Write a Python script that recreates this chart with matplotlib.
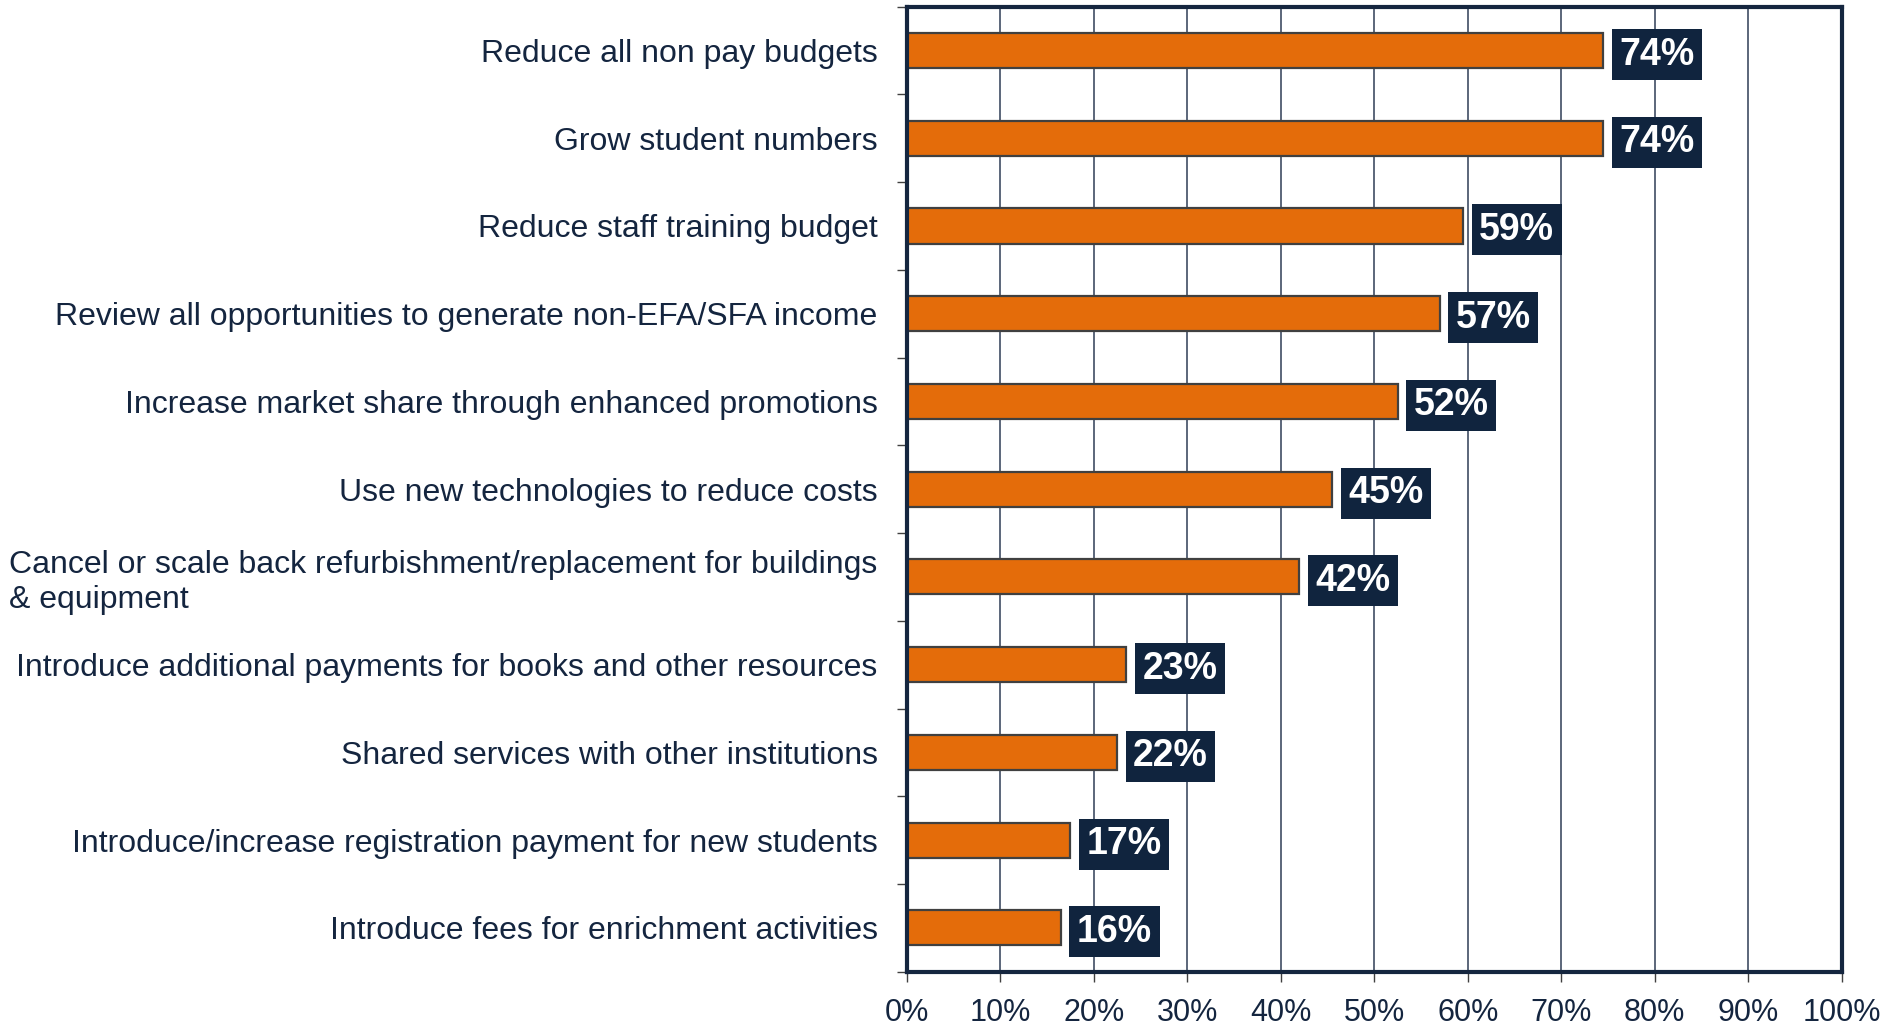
import matplotlib
matplotlib.use("Agg")
import matplotlib.pyplot as plt
from matplotlib.ticker import MultipleLocator, FixedLocator, PercentFormatter

_NAVY = "#14253f"
_BOX = "#10243e"
_ORANGE = "#e46c0a"
_EDGE = "#404040"
_GRID = "#3f4d63"

categories = [
    "Reduce all non pay budgets",
    "Grow student numbers",
    "Reduce staff training budget",
    "Review all opportunities to generate non-EFA/SFA income",
    "Increase market share through enhanced promotions",
    "Use new technologies to reduce costs",
    "Cancel or scale back refurbishment/replacement for buildings\n& equipment",
    "Introduce additional payments for books and other resources",
    "Shared services with other institutions",
    "Introduce/increase registration payment for new students",
    "Introduce fees for enrichment activities",
]
values = [74.5, 74.5, 59.5, 57, 52.5, 45.5, 42, 23.5, 22.5, 17.5, 16.5]
labels = ["74%", "74%", "59%", "57%", "52%", "45%", "42%", "23%", "22%", "17%", "16%"]

plt.rcParams["font.family"] = ["Liberation Sans", "DejaVu Sans"]

fig = plt.figure(figsize=(18.87, 10.26), dpi=100)
ax = fig.add_axes([0.4805, 0.0529, 0.4955, 0.9406])

ypos = list(range(len(categories)))
ax.barh(ypos, values, height=0.4, color=_ORANGE, edgecolor=_EDGE, linewidth=1.6, zorder=3)

for y, v, lab in zip(ypos, values, labels):
    ax.annotate(
        lab, xy=(v, y), xytext=(11.5, 0), textcoords="offset points",
        ha="left", va="center_baseline", fontsize=27, fontweight="bold", color="white",
        bbox=dict(boxstyle="square,pad=0.2", facecolor=_BOX, edgecolor="none"),
        zorder=4,
    )

ax.set_xlim(0, 100)
ax.set_ylim(len(categories) - 0.5, -0.5)
ax.xaxis.set_major_locator(MultipleLocator(10))
ax.xaxis.set_major_formatter(PercentFormatter(decimals=0))
ax.grid(axis="x", color=_GRID, linewidth=1.2, zorder=0)

ax.set_yticks(ypos)
ax.set_yticklabels(categories, multialignment="left")
ax.yaxis.set_minor_locator(FixedLocator([i - 0.5 for i in range(len(categories) + 1)]))
ax.tick_params(axis="y", which="major", length=0, pad=21, labelsize=23, labelcolor=_NAVY)
ax.tick_params(axis="y", which="minor", length=7, width=1, color=_EDGE)
ax.tick_params(axis="x", which="major", length=7, width=1, color=_EDGE,
               pad=12, labelsize=22, labelcolor=_NAVY)

for side in ["left", "right", "top", "bottom"]:
    ax.spines[side].set_color("#15263f")
    ax.spines[side].set_linewidth(3)
    ax.spines[side].set_zorder(5)

fig.savefig("out.png", dpi=100)
